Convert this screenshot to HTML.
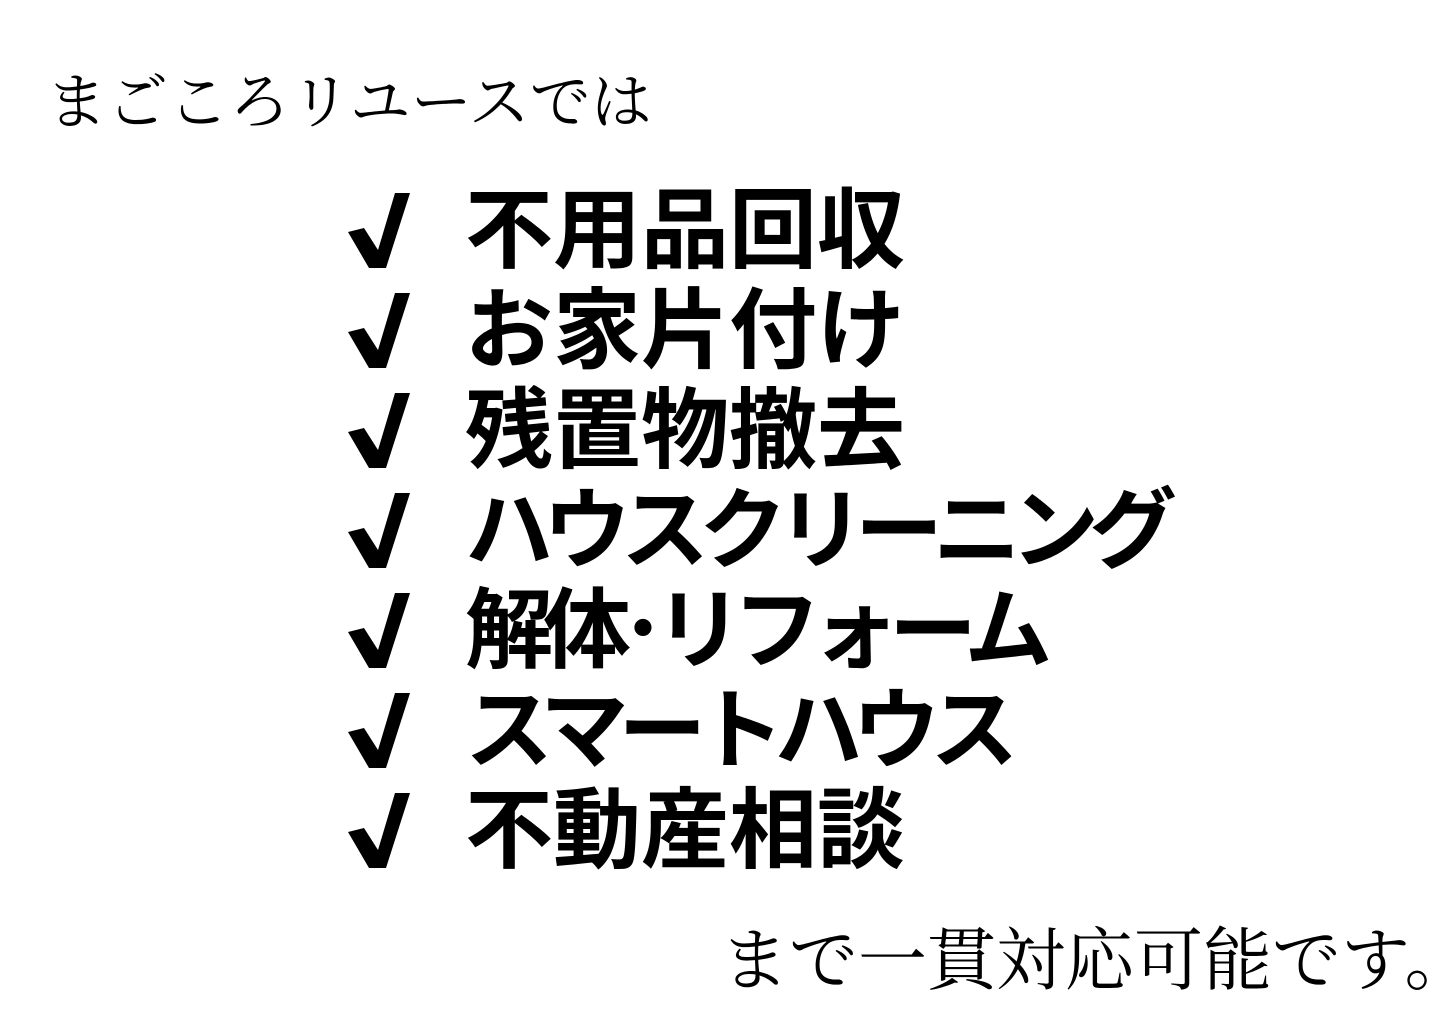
<!DOCTYPE html>
<html><head><meta charset="utf-8"><style>
html,body{margin:0;padding:0;background:#fff;}
body{width:1440px;height:1018px;position:relative;overflow:hidden;}
.t{position:absolute;white-space:nowrap;line-height:1;color:#000;}
.s{font-family:"Noto Serif CJK SC","Liberation Serif",serif;font-weight:400;}
.b{font-family:"Liberation Sans","Noto Sans CJK JP",sans-serif;font-weight:700;font-size:88px;left:465px;}
.k{letter-spacing:-10px;}
svg{position:absolute;left:0;top:0;}
</style></head><body>
<div class="t s" style="left:46px;top:67px;font-size:61px;">まごころリユースでは</div>
<svg width="1440" height="1018">
<g fill="#000">
<polygon id="c" points="348,232 364,228 378,250 395,193 410,193 386,268 369,268"/>
<use href="#c" y="100"/><use href="#c" y="200"/><use href="#c" y="300"/><use href="#c" y="400"/><use href="#c" y="500"/><use href="#c" y="600"/>
</g></svg>
<div class="t b" style="top:187px;">不用品回収</div>
<div class="t b" style="top:287px;">お家片付け</div>
<div class="t b" style="top:387px;">残置物撤去</div>
<div class="t b k" style="top:487px;">ハウスクリーニング</div>
<div class="t b k" style="top:587px;">解体･リフォーム</div>
<div class="t b k" style="top:687px;">スマートハウス</div>
<div class="t b" style="top:787px;">不動産相談</div>
<div class="t s" style="left:720px;top:920px;font-size:69px;">まで一貫対応可能です。</div>
</body></html>
